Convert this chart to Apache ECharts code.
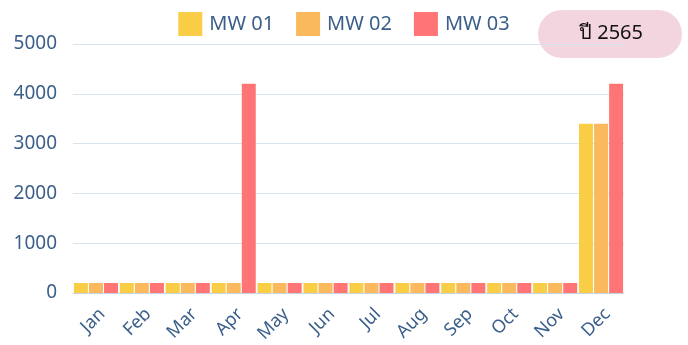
<!DOCTYPE html>
<html>
<head>
<meta charset="utf-8">
<script src="https://cdn.jsdelivr.net/npm/echarts@6/dist/echarts.min.js"></script>
<style>
  html, body { margin: 0; padding: 0; background: #fff; }
  #chart { width: 688px; height: 345px; }
</style>
</head>
<body>
<div id="chart"></div>
<script>
// Monthly values per MW series
const months = ['Jan', 'Feb', 'Mar', 'Apr', 'May', 'Jun', 'Jul', 'Aug', 'Sep', 'Oct', 'Nov', 'Dec'];
const mw01 = [200, 200, 200, 200, 200, 200, 200, 200, 200, 200, 200, 3400];
const mw02 = [200, 200, 200, 200, 200, 200, 200, 200, 200, 200, 200, 3400];
const mw03 = [200, 200, 200, 4200, 200, 200, 200, 200, 200, 200, 200, 4200];
const seriesNames = ['MW 01', 'MW 02', 'MW 03'];
const yearLabel = 'ปี 2565';

const labelColor = '#3b5f8a';
const fontFamily = '"Noto Sans", "Open Sans", sans-serif';

const chart = echarts.init(document.getElementById('chart'));
chart.setOption({
  animation: false,
  color: ['#f9cd45', '#f9b95c', '#ff7474'],
  textStyle: { fontFamily },
  legend: {
    top: 7,
    left: 'center',
    itemWidth: 24,
    itemHeight: 24,
    itemGap: 22,
    icon: 'rect',
    textStyle: { color: labelColor, fontSize: 20, fontFamily, padding: [0, 0, 0, 2] },
    data: seriesNames
  },
  grid: { left: 73, right: 64, top: 44, bottom: 52, containLabel: false },
  xAxis: {
    type: 'category',
    data: months,
    axisLine: { lineStyle: { color: '#c8d4e2', width: 1 } },
    axisTick: { show: false },
    axisLabel: {
      color: labelColor, fontSize: 18, rotate: 45, margin: 12, fontFamily,
      align: 'right', verticalAlign: 'top'
    }
  },
  yAxis: {
    type: 'value',
    min: 0,
    max: 5000,
    interval: 1000,
    axisLine: { show: false },
    axisTick: { show: false },
    splitLine: { lineStyle: { color: '#d9e3ec', width: 1 } },
    axisLabel: { color: labelColor, fontSize: 19, margin: 16, fontFamily, formatter: (v) => String(v) }
  },
  series: [
    { name: seriesNames[0], type: 'bar', data: mw01, barGap: '8%', barCategoryGap: '4%' },
    { name: seriesNames[1], type: 'bar', data: mw02, barGap: '8%', barCategoryGap: '4%' },
    { name: seriesNames[2], type: 'bar', data: mw03, barGap: '8%', barCategoryGap: '4%' }
  ],
  graphic: [
    {
      type: 'group',
      left: 538,
      top: 10,
      children: [
        {
          type: 'rect',
          shape: { x: 0, y: 0, width: 144, height: 48, r: 24 },
          style: { fill: '#f3d5df' }
        },
        {
          type: 'text',
          style: {
            x: 73, y: 23,
            text: yearLabel,
            fill: '#111',
            font: '20px "Noto Sans", "DejaVu Sans", sans-serif',
            align: 'center',
            verticalAlign: 'middle'
          }
        }
      ]
    }
  ]
});
</script>
</body>
</html>
